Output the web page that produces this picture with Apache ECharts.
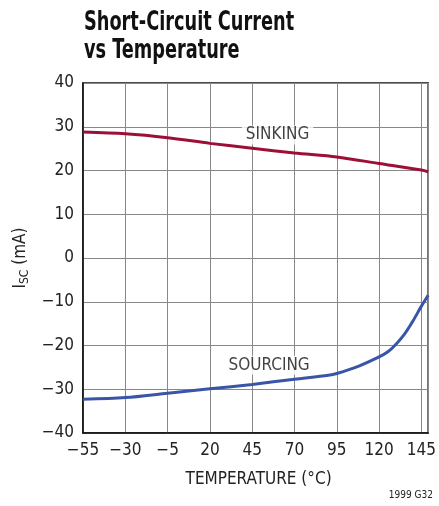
<!DOCTYPE html>
<html><head><meta charset="utf-8">
<script src="https://cdn.jsdelivr.net/npm/echarts@6/dist/echarts.min.js"></script>
<style>html,body{margin:0;padding:0;background:#fff}#c{width:439px;height:506px}</style>
</head><body><div id="c"></div>
<script>
const sinkTemps = [-55, -30, -5, 20, 45, 70, 95, 120, 145, 149];
const sinkVals  = [28.8, 28.4, 27.5, 26.2, 25.1, 24.0, 23.1, 21.6, 20.1, 19.7];
const srcTemps = [-55, -30, -5, 20, 45, 70, 90, 95, 108, 120, 125, 130, 135, 140, 145, 149];
const srcVals  = [-32.3, -31.9, -30.9, -29.9, -28.9, -27.7, -26.8, -26.4, -24.7, -22.6, -21.5, -19.7, -17.4, -14.4, -11.0, -8.5];
const xTicks = [-55, -30, -5, 20, 45, 70, 95, 120, 145];
const yTicks = [-40, -30, -20, -10, 0, 10, 20, 30, 40];
const labelSink = {x: 60, y: 28.1, text: 'SINKING'};
const labelSrc = {x: 55, y: -24.5, text: 'SOURCING'};
const titleText = 'Short-Circuit Current\nvs Temperature';

const font = '"DejaVu Sans Condensed", "Liberation Sans Narrow", sans-serif';
const minus = v => String(v).replace('-', '\u2212');
const chart = echarts.init(document.getElementById('c'));
chart.setOption({
  animation: false,
  backgroundColor: '#fff',
  graphic: [
    {type: 'text', x: 84, y: 9, scaleX: 0.73, scaleY: 1,
     style: {text: titleText, font: 'bold 27px ' + font, lineHeight: 28, fill: '#111'}},
    {type: 'text', right: 6, top: 490,
     style: {text: '1999 G32', font: '10px ' + font, fill: '#222'}}
  ],
  grid: {left: 83, right: 6, top: 83, bottom: 73, show: true, borderColor: '#111', borderWidth: 1.5},
  xAxis: {
    type: 'value', min: -55, max: 149, interval: 25,
    name: 'TEMPERATURE (°C)', nameLocation: 'middle', nameGap: 38,
    nameTextStyle: {fontFamily: font, fontSize: 17, color: '#222', padding: [0, 0, 0, 6]},
    axisLine: {onZero: false, lineStyle: {color: '#111', width: 1.5}},
    axisTick: {show: false},
    axisLabel: {fontFamily: font, fontSize: 17, color: '#222', margin: 9,
      formatter: v => xTicks.includes(v) ? minus(v) : ''},
    splitLine: {show: true, lineStyle: {color: '#888', width: 1}}
  },
  yAxis: {
    type: 'value', min: -40, max: 40, interval: 10,
    name: '{a|I}{b|SC}{a| (mA)}', nameLocation: 'middle', nameGap: 52,
    nameTextStyle: {fontFamily: font, fontSize: 17, color: '#222',
      rich: {a: {fontFamily: font, fontSize: 17, color: '#222'},
             b: {fontFamily: font, fontSize: 12, color: '#222', padding: [8, 0, 0, 0]}}},
    axisLine: {show: true, onZero: false, lineStyle: {color: '#111', width: 1.5}},
    axisTick: {show: false},
    axisLabel: {fontFamily: font, fontSize: 17, color: '#222', margin: 9,
      formatter: v => yTicks.includes(v) ? minus(v) : ''},
    splitLine: {show: true, lineStyle: {color: '#888', width: 1}}
  },
  series: [
    {type: 'line', name: 'SINKING', data: sinkTemps.map((t, i) => [t, sinkVals[i]]),
     smooth: 0.3, showSymbol: false, lineStyle: {color: '#9e0f38', width: 3}, z: 3},
    {type: 'line', name: 'SOURCING', data: srcTemps.map((t, i) => [t, srcVals[i]]),
     smooth: 0.3, showSymbol: false, lineStyle: {color: '#3a55a8', width: 3}, z: 3},
    {type: 'scatter', symbolSize: 0, z: 4,
     data: [[labelSink.x, labelSink.y, labelSink.text], [labelSrc.x, labelSrc.y, labelSrc.text]],
     label: {show: true, position: 'inside', formatter: p => p.value[2],
       fontFamily: font, fontSize: 17, color: '#111', backgroundColor: '#fff', padding: [1, 4]}}
  ]
});
</script></body></html>
